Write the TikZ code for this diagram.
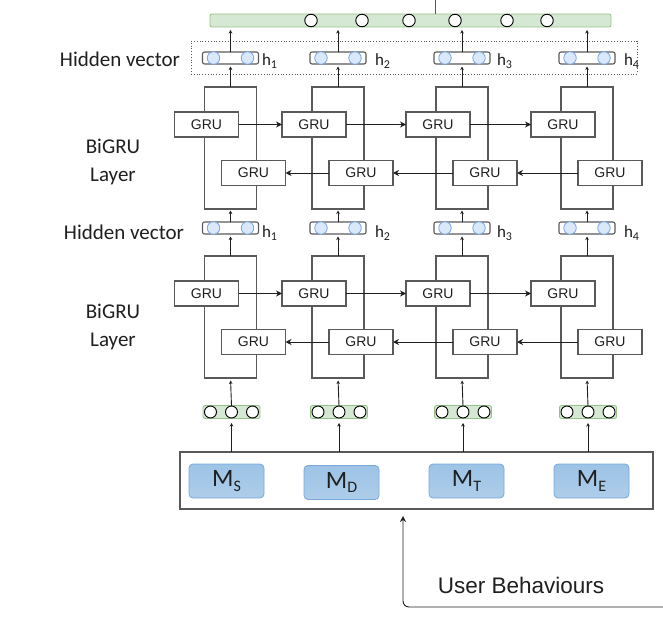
\documentclass[tikz,border=0pt]{standalone}
\usepackage{fontspec}
\setmainfont{Carlito}
\newfontfamily\arialf{Liberation Sans}
\usetikzlibrary{arrows.meta,calc}
\definecolor{txt}{HTML}{1F1F1F}
\definecolor{lin}{HTML}{595959}
\definecolor{gfill}{HTML}{D5E8D4}
\definecolor{gdraw}{HTML}{97C08A}
\definecolor{bfill}{HTML}{DAE8FC}
\definecolor{bdraw}{HTML}{7EA6E0}
\definecolor{mtop}{HTML}{9DC3E6}
\definecolor{mbot}{HTML}{AECDEA}
\definecolor{mdraw}{HTML}{78A8DA}
\newcommand{\hsubx}[1]{h\raisebox{-0.35ex}{\fontsize{12}{12}\selectfont #1}}
\newcommand{\msubx}[1]{M\raisebox{-0.4ex}{\fontsize{16}{16}\selectfont #1}}
\begin{document}
\begin{tikzpicture}[x=1pt,y=-1pt,
  every node/.style={inner sep=0pt,outer sep=0pt,text=txt},
  grubox/.style={draw=lin,line width=1.1pt,fill=white,minimum width=64pt,minimum height=25pt,font=\arialf\fontsize{14}{14}\selectfont},
  frame/.style={draw=lin,line width=1.1pt,minimum width=52pt,minimum height=122pt},
  hbox/.style={draw=lin,line width=1.1pt,rounded corners=2pt,minimum width=56pt,minimum height=12pt},
  hcirc/.style={ellipse/.try,circle,draw=bdraw,fill=bfill,line width=0.8pt,minimum size=12.5pt},
  gbar/.style={draw=gdraw,fill=gfill,line width=0.8pt,rounded corners=2pt,minimum height=13pt},
  gcirc/.style={circle,draw=black,fill=white,line width=0.9pt,minimum size=12pt},
  mbox/.style={draw=mdraw,top color=mtop,bottom color=mbot,line width=0.8pt,rounded corners=4pt,minimum width=75pt,minimum height=34pt,font=\fontsize{25}{25}\selectfont},
  lbl/.style={font=\fontsize{21}{28}\selectfont,align=center},
  hl/.style={font=\fontsize{17}{16}\selectfont,anchor=west},
  arr/.style={draw=txt,line width=0.9pt,-{Stealth[length=6pt,width=6pt]}},
  uarr/.style={draw=txt,line width=0.9pt,-{Stealth[length=3.5pt,width=3.5pt]}}
]
\useasboundingbox (0,0) rectangle (663,628);
% top bar
\node[gbar,minimum width=401pt] (topbar) at (410.5,20.5) {};
\foreach \i/\x in {1/311,2/362,3/409,4/455,5/507,6/547}
  \node[gcirc,minimum size=12.5pt] (tc\i) at (\x,20.5) {};
\coordinate (tl) at (435,0);
\draw[lin,line width=1pt] (topbar.north -| tl) -- (tl);
% dotted box
\node[draw=lin,dotted,line width=0.8pt,minimum width=446pt,minimum height=33pt] (dotbox) at (414,57.5) {};
% labels
\node[lbl,anchor=east] (lhv1) at (180,59) {Hidden vector};
\node[lbl] (lbg1) at (113,162) {BiGRU\\Layer};
\node[lbl,anchor=east] (lhv2) at (184,232) {Hidden vector};
\node[lbl] (lbg2) at (113,327) {BiGRU\\Layer};
% columns
\foreach \i/\cx/\hx in {1/230.5/262,2/338/375,3/462/497,4/587/624}{
  % upper hidden vector
  \node[hbox] (hu\i) at (\cx,58) {};
  \node[hcirc] (hua\i) at ($(hu\i.center)+(-17,0)$) {};
  \node[hcirc] (hub\i) at ($(hu\i.center)+(17,0)$) {};
  \node[hl] (hut\i) at (\hx,61) {\hsubx{\i}};
  % upper frame
  \node[frame] (fu\i) at (\cx,148) {};
  \node[grubox] (gfu\i) at (\cx-24,124.5) {GRU};
  \node[grubox] (gbu\i) at (\cx+23,173) {GRU};
  % lower hidden vector
  \node[hbox] (hd\i) at (\cx,228) {};
  \node[hcirc] (hda\i) at ($(hd\i.center)+(-17,0)$) {};
  \node[hcirc] (hdb\i) at ($(hd\i.center)+(17,0)$) {};
  \node[hl] (hdt\i) at (\hx,233) {\hsubx{\i}};
  % lower frame
  \node[frame] (fl\i) at (\cx,317) {};
  \node[grubox] (gfl\i) at (\cx-24,293.5) {GRU};
  \node[grubox] (gbl\i) at (\cx+23,342) {GRU};
  % green input vector
  \node[gbar,minimum width=57pt] (gv\i) at (\cx+1,412) {};
  \node[gcirc] (gva\i) at ($(gv\i.center)+(-21,0)$) {};
  \node[gcirc] (gvb\i) at ($(gv\i.center)+(0,0)$) {};
  \node[gcirc] (gvc\i) at ($(gv\i.center)+(21,0)$) {};
}
% big input box
\node[draw=lin,line width=1.1pt,minimum width=473pt,minimum height=57pt] (bigbox) at (416.5,480.5) {};
\node[mbox] (ms) at (226.5,481) {\msubx{S}};
\node[mbox] (md) at (341.5,482.5) {\msubx{D}};
\node[mbox] (mt) at (466.5,481) {\msubx{T}};
\node[mbox] (me) at (591.5,481) {\msubx{E}};
% vertical connectors
\foreach \i in {1,2,3,4}{
  \draw[uarr,shorten >=3pt] (hu\i.north) -- (topbar.south -| hu\i);
  \draw[uarr,shorten >=2.5pt] (fu\i.north) -- (hu\i.south);
  \draw[uarr,shorten >=1.5pt] (hd\i.north) -- (fu\i.south);
  \draw[uarr,shorten >=2.5pt] (fl\i.north) -- (hd\i.south);
  \draw[uarr,shorten >=2.5pt] (gvb\i.north) -- (fl\i.south);
  \draw[uarr,shorten >=5pt] (bigbox.north -| gvb\i) -- (gvb\i.south);
}
% horizontal GRU connectors
\foreach \a/\b in {1/2,2/3,3/4}{
  \draw[arr] (gfu\a.east) -- (gfu\b.west);
  \draw[arr] (gbu\b.west) -- (gbu\a.east);
  \draw[arr] (gfl\a.east) -- (gfl\b.west);
  \draw[arr] (gbl\b.west) -- (gbl\a.east);
}
% user behaviours
\coordinate (ubs) at (663,607);
\coordinate (ubx) at (403,509);
\draw[arr,rounded corners=6pt,shorten >=7pt] (ubs) -| (ubx);
\node[font=\arialf\fontsize{22.5}{22}\selectfont] (ubt) at (521,585) {User Behaviours};
\end{tikzpicture}
\end{document}
